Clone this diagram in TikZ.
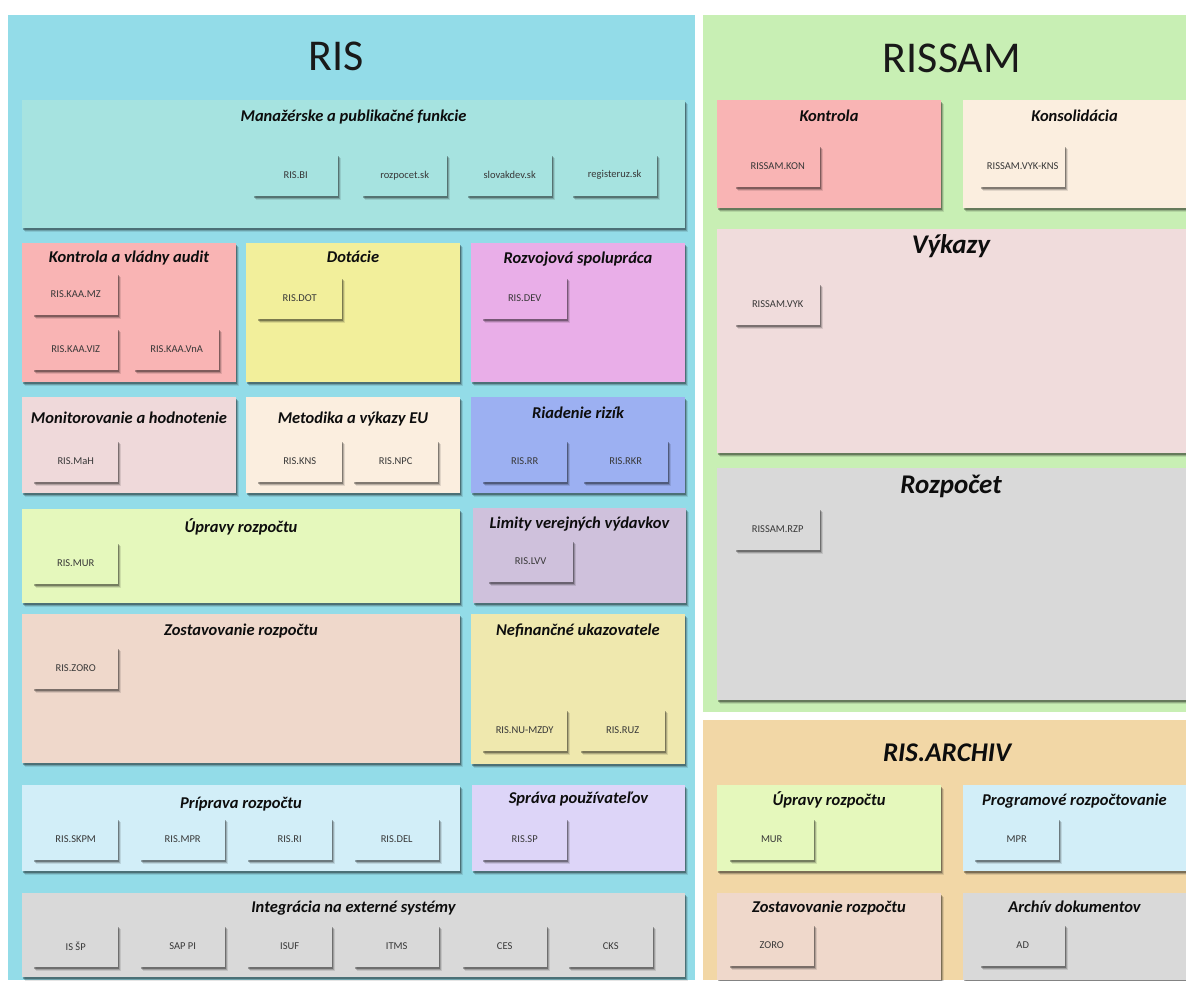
\documentclass[tikz,border=0pt]{standalone}
\usepackage{fontspec}
\setmainfont{Carlito}
\usetikzlibrary{shadows,calc}
\definecolor{cRIS}{HTML}{93DCE8}
\definecolor{cRISSAM}{HTML}{C8EFB4}
\definecolor{cARCH}{HTML}{F2D7A6}
\definecolor{cMAN}{HTML}{A6E3E0}
\definecolor{cKON}{HTML}{F9B4B4}
\definecolor{cDOT}{HTML}{F2EF9B}
\definecolor{cDEV}{HTML}{E9AEE8}
\definecolor{cMAH}{HTML}{EFD9DA}
\definecolor{cMET}{HTML}{FBEEDF}
\definecolor{cRIZ}{HTML}{9CB0F2}
\definecolor{cUPR}{HTML}{E5F8BC}
\definecolor{cLIM}{HTML}{CFC1DC}
\definecolor{cZOS}{HTML}{EFD8CB}
\definecolor{cNEF}{HTML}{EFE8AE}
\definecolor{cPRI}{HTML}{D2EEF8}
\definecolor{cSPR}{HTML}{DDD5F8}
\definecolor{cGRY}{HTML}{D9D9D9}
\definecolor{cVYK}{HTML}{F0DCDC}
\tikzset{
  softshadow/.style={
    drop shadow={shadow xshift=2.6pt, shadow yshift=-3.6pt, opacity=0.10, fill=black},
    drop shadow={shadow xshift=1.8pt, shadow yshift=-2.6pt, opacity=0.18, fill=black},
    drop shadow={shadow xshift=0.9pt, shadow yshift=-1.4pt, opacity=0.30, fill=black}},
  outerpanel/.style={rectangle, draw=none, inner sep=0pt, anchor=north west},
  bigtitle/.style={font=\fontsize{44}{50}\selectfont, text=black!90, inner sep=0pt, anchor=base},
  panel/.style={rectangle, draw=none, inner sep=0pt, anchor=north west, softshadow},
  ptitle/.style={font=\fontsize{16.5}{20}\selectfont\bfseries\itshape, text=black!95, inner sep=0pt, anchor=base},
  midtitle/.style={font=\fontsize{27}{32}\selectfont\bfseries\itshape, text=black!95, inner sep=0pt, anchor=base},
  modbox/.style={rectangle, draw=none, inner sep=0pt, anchor=north west,
    minimum width=85pt, minimum height=42pt,
    font=\fontsize{10.5}{12}\selectfont, text=black!78, softshadow},
}
% name, x1, y1, x2, y2, fill, title, title baseline
\newcommand{\panelbox}[8]{%
  \node[panel, fill=#6, minimum width={(#4-#2)*1pt}, minimum height={(#5-#3)*1pt}] (#1) at (#2,#3) {};
  \node[ptitle] (#1t) at ({(#2+#4)/2},#8) {#7};
}
% name, x1, y1, fill, text
\newcommand{\modul}[5]{%
  \node[modbox, fill=#4] (#1) at (#2,#3) {#5};
}
\begin{document}
\begin{tikzpicture}[x=1pt, y=-1pt]
\useasboundingbox (0,0) rectangle (1186,980);
\fill[white] (0,0) rectangle (1186,980);

% ===== RIS =====
\node[outerpanel, fill=cRIS, minimum width=687pt, minimum height=965pt] (ris) at (8,15) {};
\node[bigtitle] (rist) at (336,70) {RIS};

\panelbox{man}{22}{100}{685}{228}{cMAN}{Manažérske a publikačné funkcie}{121}
\modul{risbi}{253}{154}{cMAN}{RIS.BI}
\modul{rozpocet}{362}{154}{cMAN}{rozpocet.sk}
\modul{slovakdev}{467}{154}{cMAN}{slovakdev.sk}
\modul{registeruz}{572}{154}{cMAN}{registeruz.sk}

\panelbox{kaa}{22}{243}{236}{382}{cKON}{Kontrola a vládny audit}{262}
\modul{kaamz}{33}{273}{cKON}{RIS.KAA.MZ}
\modul{kaaviz}{33}{328}{cKON}{RIS.KAA.VIZ}
\modul{kaavna}{134}{328}{cKON}{RIS.KAA.VnA}

\panelbox{dot}{246}{243}{460}{382}{cDOT}{Dotácie}{262}
\modul{risdot}{257}{277}{cDOT}{RIS.DOT}

\panelbox{dev}{471}{243}{685}{382}{cDEV}{Rozvojová spolupráca}{263}
\modul{risdev}{482}{277}{cDEV}{RIS.DEV}

\panelbox{mah}{22}{397}{236}{493}{cMAH}{Monitorovanie a hodnotenie}{423}
\modul{rismah}{33}{440}{cMAH}{RIS.MaH}

\panelbox{met}{246}{397}{460}{493}{cMET}{Metodika a výkazy EU}{423}
\modul{riskns}{257}{440}{cMET}{RIS.KNS}
\modul{risnpc}{353}{440}{cMET}{RIS.NPC}

\panelbox{riz}{471}{397}{685}{493}{cRIZ}{Riadenie rizík}{418}
\modul{risrr}{482}{440}{cRIZ}{RIS.RR}
\modul{risrkr}{583}{440}{cRIZ}{RIS.RKR}

\panelbox{upr}{22}{509}{460}{603}{cUPR}{Úpravy rozpočtu}{532}
\modul{rismur}{33}{542}{cUPR}{RIS.MUR}

\panelbox{lim}{473}{508}{686}{603}{cLIM}{Limity verejných výdavkov}{528}
\modul{rislvv}{488}{540}{cLIM}{RIS.LVV}

\panelbox{zos}{22}{614}{460}{763}{cZOS}{Zostavovanie rozpočtu}{635}
\modul{riszoro}{33}{647}{cZOS}{RIS.ZORO}

\panelbox{nef}{471}{614}{685}{764}{cNEF}{Nefinančné ukazovatele}{635}
\modul{risnumzdy}{482}{709}{cNEF}{RIS.NU-MZDY}
\modul{risruz}{580}{709}{cNEF}{RIS.RUZ}

\panelbox{pri}{22}{785}{460}{871}{cPRI}{Príprava rozpočtu}{808}
\modul{risskpm}{33}{818}{cPRI}{RIS.SKPM}
\modul{rismpr}{140}{818}{cPRI}{RIS.MPR}
\modul{risri}{247}{818}{cPRI}{RIS.RI}
\modul{risdel}{354}{818}{cPRI}{RIS.DEL}

\panelbox{spr}{472}{785}{685}{871}{cSPR}{Správa používateľov}{803}
\modul{rissp}{482}{818}{cSPR}{RIS.SP}

\panelbox{int}{22}{893}{685}{977}{cGRY}{Integrácia na externé systémy}{912}
\modul{issp}{33}{925}{cGRY}{IS ŠP}
\modul{sappi}{140}{925}{cGRY}{SAP PI}
\modul{isuf}{247}{925}{cGRY}{ISUF}
\modul{itms}{354}{925}{cGRY}{ITMS}
\modul{ces}{462}{925}{cGRY}{CES}
\modul{cks}{568}{925}{cGRY}{CKS}

% ===== RISSAM =====
\node[outerpanel, fill=cRISSAM, minimum width=483pt, minimum height=697pt] (rissam) at (703,15) {};
\node[bigtitle] (rissamt) at (952,72) {RISSAM};

\panelbox{skon}{717}{100}{941}{208}{cKON}{Kontrola}{121}
\modul{rissamkon}{735}{145}{cKON}{RISSAM.KON}

\panelbox{skns}{963}{100}{1186}{208}{cMET}{Konsolidácia}{121}
\modul{rissamvykkns}{980}{145}{cMET}{RISSAM.VYK-KNS}

\node[panel, fill=cVYK, minimum width=469pt, minimum height=224pt] (svyk) at (717,229) {};
\node[midtitle] (svykt) at (951,253) {Výkazy};
\modul{rissamvyk}{735}{283}{cVYK}{RISSAM.VYK}

\node[panel, fill=cGRY, minimum width=469pt, minimum height=232pt] (srzp) at (717,468) {};
\node[midtitle] (srzpt) at (951,493) {Rozpočet};
\modul{rissamrzp}{735}{508}{cGRY}{RISSAM.RZP}

% ===== RIS.ARCHIV =====
\node[outerpanel, fill=cARCH, minimum width=483pt, minimum height=260pt] (arch) at (703,720) {};
\node[midtitle] (archt) at (947,761) {RIS.ARCHIV};

\panelbox{aupr}{717}{785}{941}{871}{cUPR}{Úpravy rozpočtu}{805}
\modul{amur}{729}{818}{cUPR}{MUR}

\panelbox{aprg}{963}{785}{1186}{871}{cPRI}{Programové rozpočtovanie}{805}
\modul{ampr}{974}{818}{cPRI}{MPR}

\panelbox{azos}{717}{893}{941}{980}{cZOS}{Zostavovanie rozpočtu}{912}
\modul{azoro}{729}{924}{cZOS}{ZORO}

\panelbox{aad}{963}{893}{1186}{980}{cGRY}{Archív dokumentov}{912}
\modul{aadm}{980}{924}{cGRY}{AD}
\end{tikzpicture}
\end{document}
